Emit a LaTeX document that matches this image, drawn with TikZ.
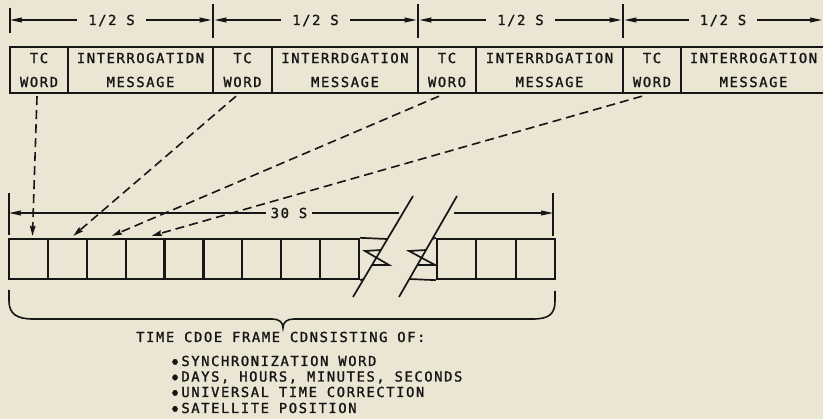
\documentclass[tikz,border=0pt]{standalone}
\usepackage{fontspec}
\newfontfamily\lettering{DejaVu Sans Mono}[LetterSpace=11.6,FakeBold=1.4]
\newcommand{\blt}{\raisebox{1.6pt}{\fontsize{9.5pt}{9.5pt}\selectfont ●}\hspace{3.5pt}}
\usetikzlibrary{arrows.meta}
\definecolor{bg}{RGB}{235,229,212}
\definecolor{ink}{RGB}{22,22,22}
\begin{document}
\begin{tikzpicture}[x=1pt,y=-1pt,
  every node/.style={font=\lettering\fontsize{13.8pt}{24pt}\selectfont, text=ink, inner sep=0pt},
  topbox/.style={draw=ink, line width=2.4pt, minimum height=46pt, align=center},
  cellbox/.style={draw=ink, line width=2.3pt, minimum height=40pt, minimum width=38.89pt},
  dimlab/.style={inner xsep=11pt, anchor=base},
  dim/.style={draw=ink, line width=1.4pt, -{Stealth[length=12pt,width=5pt,inset=1pt]}},
  dimplain/.style={draw=ink, line width=1.4pt},
  tick/.style={draw=ink, line width=1.3pt},
  dashline/.style={draw=ink, line width=1.6pt, dash pattern=on 9pt off 5pt, -{Stealth[length=10pt,width=5.5pt,inset=1pt]}},
  breakline/.style={draw=ink, line width=1.7pt, line join=miter},
  listline/.style={anchor=base west, font=\lettering\fontsize{13.8pt}{16pt}\selectfont}
]
\useasboundingbox (0,0) rectangle (823,419);
\fill[bg] (0,0) rectangle (823,419);

% ---- top dimension line ----
\draw[tick] (10,8) -- (10,33);
\draw[tick] (213,4) -- (213,38);
\draw[tick] (418,4) -- (418,38);
\draw[tick] (623,4) -- (623,38);
\coordinate (k0) at (10,20);
\coordinate (k1a) at (211.5,20);
\coordinate (k1b) at (214.5,20);
\coordinate (k2a) at (416.5,20);
\coordinate (k2b) at (419.5,20);
\coordinate (k3a) at (621.5,20);
\coordinate (k3b) at (624.5,20);
\coordinate (k4) at (822,20);
\node[dimlab] (h1) at (111.5,25) {1/2 S};
\node[dimlab] (h2) at (315.5,25) {1/2 S};
\node[dimlab] (h3) at (520.5,25) {1/2 S};
\node[dimlab] (h4) at (723,25) {1/2 S};
\draw[dim] (h1.west |- k0) -- (k0);
\draw[dim] (h1.east |- k0) -- (k1a);
\draw[dim] (h2.west |- k0) -- (k1b);
\draw[dim] (h2.east |- k0) -- (k2a);
\draw[dim] (h3.west |- k0) -- (k2b);
\draw[dim] (h3.east |- k0) -- (k3a);
\draw[dim] (h4.west |- k0) -- (k3b);
\draw[dim] (h4.east |- k0) -- (k4);

% ---- top row of boxes ----
\node[topbox, minimum width=58pt]  (t1) at (39,70)    {TC\\WORD};
\node[topbox, minimum width=145pt] (m1) at (140.5,70) {INTERROGATIDN\\MESSAGE};
\node[topbox, minimum width=59pt]  (t2) at (242.5,70) {TC\\WORD};
\node[topbox, minimum width=146pt] (m2) at (345,70)   {INTERRDGATION\\MESSAGE};
\node[topbox, minimum width=58pt]  (t3) at (447,70)   {TC\\WORO};
\node[topbox, minimum width=147pt] (m3) at (549.5,70) {INTERRDGATION\\MESSAGE};
\node[topbox, minimum width=58pt]  (t4) at (652,70)   {TC\\WORD};
\node[topbox, minimum width=145pt] (m4) at (753.5,70) {INTERROGATION\\MESSAGE};

% ---- bottom row of cells ----
\node[cellbox] (b1) at (28.45,259) {};
\node[cellbox] (b2) at (67.34,259) {};
\node[cellbox] (b3) at (106.23,259) {};
\node[cellbox] (b4) at (145.12,259) {};
\node[cellbox] (b5) at (184.01,259) {};
\node[cellbox] (b6) at (222.9,259) {};
\node[cellbox] (b7) at (261.79,259) {};
\node[cellbox] (b8) at (300.68,259) {};
\node[cellbox] (b9) at (339.57,259) {};
\node[cellbox, minimum width=39.33pt] (r1) at (456.67,259) {};
\node[cellbox, minimum width=39.33pt] (r2) at (496,259) {};
\node[cellbox, minimum width=39.33pt] (r3) at (535.33,259) {};

% ---- break symbol ----
\draw[breakline] (b9.north east) -- (387,239);
\draw[breakline] (b9.south east) -- (364,279);
\draw[breakline] (381,250) -- (365,251) -- (389,265) -- (372,265);
\draw[breakline] (353,297) -- (413,196);
\draw[breakline] (432,239) -- (r1.north west);
\draw[breakline] (409,279) -- (r1.south west);
\draw[breakline] (426,250) -- (409,251) -- (435,265) -- (417,265);
\draw[breakline] (399,297) -- (457,196);

% ---- 30 s dimension ----
\draw[tick] (9,193) -- (9,235);
\draw[tick] (553,193) -- (553,236);
\coordinate (L0) at (9,213);
\coordinate (L1) at (553,213);
\coordinate (Lb1) at (399,213);
\coordinate (Lb2) at (454,213);
\node[dimlab, inner xsep=5pt] (s30) at (289,218) {30 S};
\draw[dim] (s30.west |- L0) -- (L0);
\draw[dimplain] (s30.east |- L0) -- (Lb1);
\draw[dim] (Lb2) -- (L1);

% ---- dashed connectors ----
\draw[dashline] ([xshift=-2pt,yshift=-2pt]t1.south) -- ([xshift=4pt,yshift=2pt]b1.north);
\draw[dashline] ([xshift=-6.5pt,yshift=-2pt]t2.south) -- ([xshift=6pt,yshift=2pt]b2.north);
\draw[dashline] ([xshift=-8pt,yshift=-2pt]t3.south) -- ([xshift=5.6pt,yshift=2pt]b3.north);
\draw[dashline] ([xshift=-10pt,yshift=-2pt]t4.south) -- ([xshift=6.6pt,yshift=2pt]b4.north);

% ---- brace ----
\draw[ink, line width=1.6pt]
  (9,290) -- (9,301) .. controls (9,314) and (17,319) .. (33,319)
  -- (272,319) .. controls (279,319) and (283,322) .. (283,328)
  .. controls (283,322) and (287,319) .. (294,319)
  -- (533,319) .. controls (549,319) and (555,314) .. (555,301) -- (555,291);

% ---- texts ----
\node[anchor=base west] (title) at (136,342) {TIME CDOE FRAME CDNSISTING OF:};
\node[listline] (l1) at (172,366) {\blt SYNCHRONIZATION WORD};
\node[listline] (l2) at (172,381.5) {\blt DAYS, HOURS, MINUTES, SECONDS};
\node[listline] (l3) at (172,397) {\blt UNIVERSAL TIME CORRECTION};
\node[listline] (l4) at (172,413) {\blt SATELLITE POSITION};
\end{tikzpicture}
\end{document}
